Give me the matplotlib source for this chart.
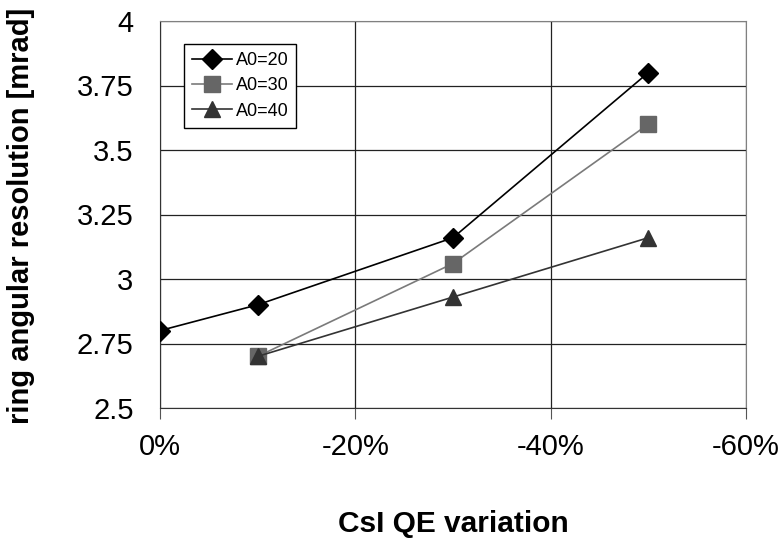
import matplotlib.pyplot as plt
from matplotlib.ticker import FuncFormatter

plt.rcParams['font.family'] = ['Liberation Sans', 'DejaVu Sans']

qe_a20 = [0, -10, -30, -50]
res_a20 = [2.8, 2.9, 3.16, 3.8]
qe_a30 = [-10, -30, -50]
res_a30 = [2.7, 3.06, 3.6]
qe_a40 = [-10, -30, -50]
res_a40 = [2.7, 2.93, 3.16]
x_ticks = [0, -20, -40, -60]
y_ticks = [2.5, 2.75, 3, 3.25, 3.5, 3.75, 4]

fig = plt.figure(figsize=(7.83, 5.39), dpi=100)
ax = fig.add_axes([160/783, 1-408/539, (746-160)/783, (408-21)/539])

ax.plot(qe_a20, res_a20, color='black', lw=1.2, marker='D', ms=10.5,
        mfc='black', mec='black', label='A0=20', zorder=5)
ax.plot(qe_a30, res_a30, color='#7a7a7a', lw=1.2, marker='s', ms=11,
        mfc='#666666', mec='#666666', label='A0=30', zorder=4)
ax.plot(qe_a40, res_a40, color='#333333', lw=1.2, marker='^', ms=12,
        mfc='#333333', mec='#333333', label='A0=40', zorder=4)

ax.set_xlim(0, -60)
ax.set_ylim(2.5, 4)
ax.set_xticks(x_ticks)
ax.set_yticks(y_ticks)
ax.xaxis.set_major_formatter(FuncFormatter(lambda v, p: f'{int(v)}%'))
ax.yaxis.set_major_formatter(FuncFormatter(lambda v, p: f'{v:g}'))
ax.grid(True, color='#222222', lw=0.9)
ax.set_axisbelow(True)
ax.tick_params(labelsize=21)
ax.tick_params(axis='x', direction='out', length=8, color='#555555', pad=10)
ax.tick_params(axis='y', length=0, pad=19)

for side in ['top', 'right']:
    ax.spines[side].set_color('#808080')
for side in ['left', 'bottom']:
    ax.spines[side].set_color('#333333')

ax.set_xlabel('CsI QE variation', fontsize=21.5, fontweight='bold')
ax.set_ylabel('ring angular resolution [mrad]', fontsize=21, fontweight='bold')
ax.xaxis.set_label_coords(0.5, (408 - 510) / 387)
ax.yaxis.set_label_coords((35 - 160) / 586, (408 - 216) / 387)

leg = ax.legend(loc='upper left', bbox_to_anchor=(0.041, 0.94), fontsize=13,
                frameon=True, fancybox=False, edgecolor='black', framealpha=1,
                handlelength=2.2, borderpad=0.45, labelspacing=0.45, handletextpad=0.2,
                borderaxespad=0)
leg.get_frame().set_linewidth(1.0)

fig.savefig('out.png', dpi=100)
